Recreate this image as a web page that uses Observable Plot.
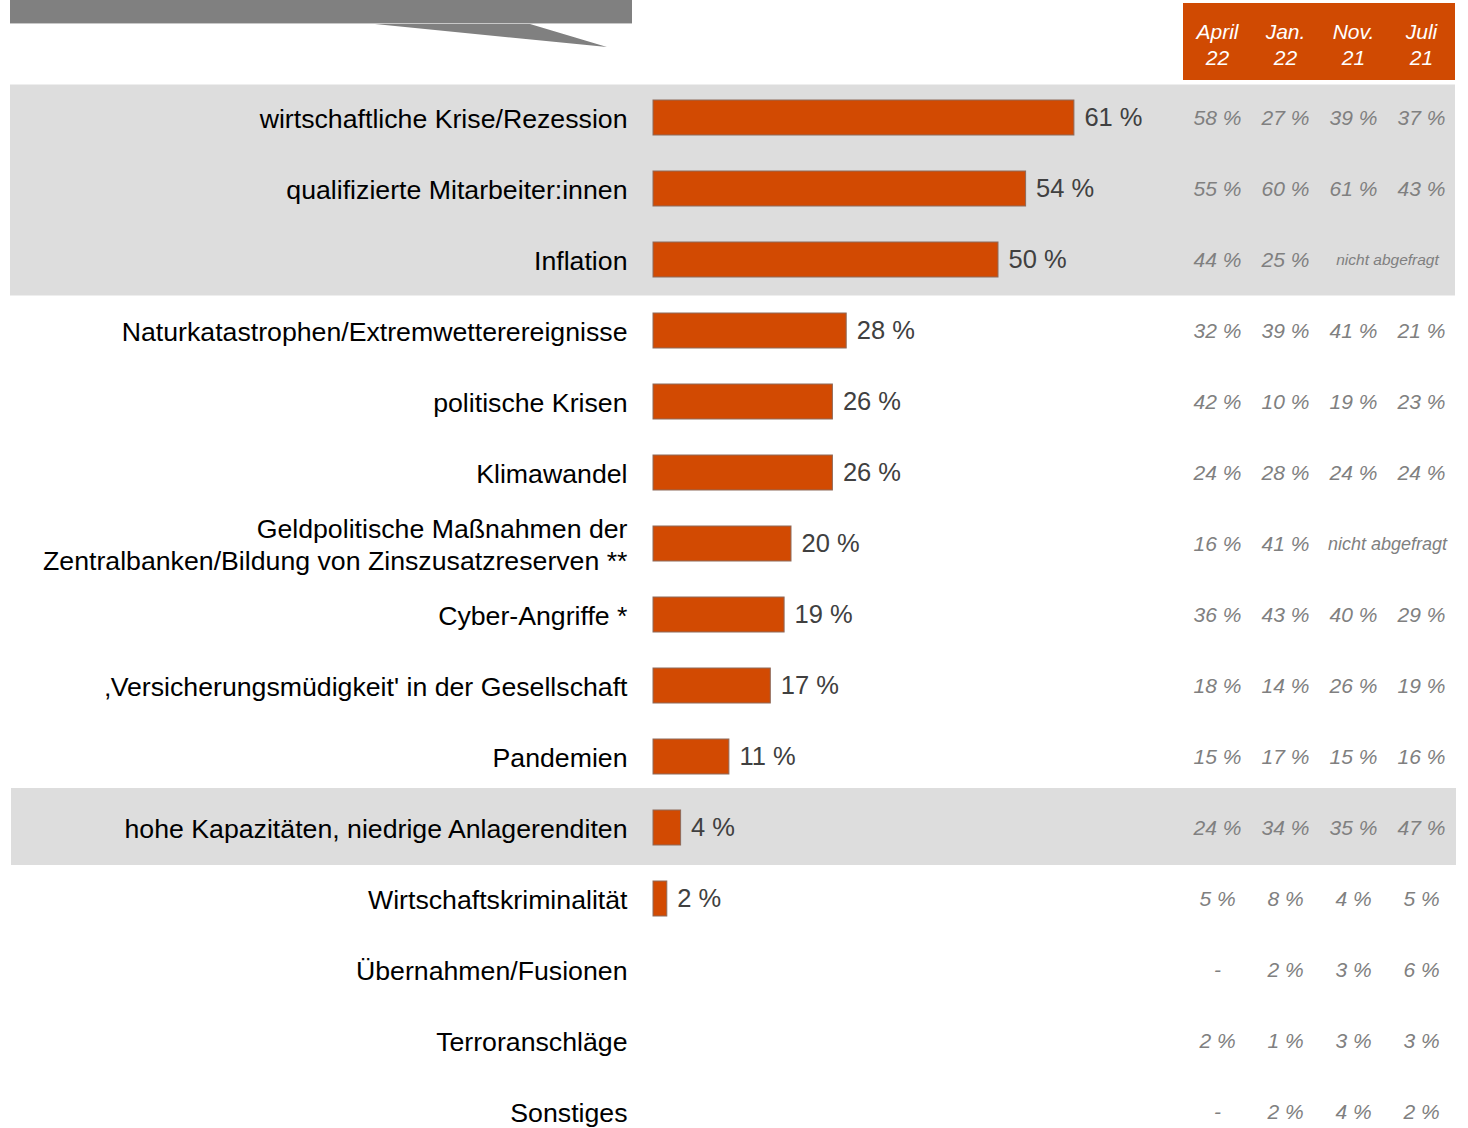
<!DOCTYPE html>
<html>
<head>
<meta charset="utf-8">
<script src="https://cdn.jsdelivr.net/npm/d3@7"></script>
<script src="https://cdn.jsdelivr.net/npm/@observablehq/plot@0.6"></script>
<style>
  html, body { margin: 0; padding: 0; background: #fff; }
  #wrap { position: relative; width: 1468px; height: 1128px; overflow: hidden; font-family: "Liberation Sans", Arial, sans-serif; }
  #wrap svg { position: absolute; left: 0; top: 0; display: block; max-width: none; }
  #banner { position: absolute; left: 10px; top: 0; width: 622px; height: 48px; background: #808080;
    clip-path: polygon(0 0, 622px 0, 622px 24px, 520px 24px, 597px 47px, 365px 24px, 0 24px); }
  #bannerline { position: absolute; left: 10px; top: 23px; width: 622px; height: 1px; background: #c8c8c8; }
</style>
</head>
<body>
<div id="wrap"></div>
<script>
// Categories (rows, top to bottom)
const categories = [
  "wirtschaftliche Krise/Rezession",
  "qualifizierte Mitarbeiter:innen",
  "Inflation",
  "Naturkatastrophen/Extremwetterereignisse",
  "politische Krisen",
  "Klimawandel",
  "Geldpolitische Maßnahmen der\nZentralbanken/Bildung von Zinszusatzreserven **",
  "Cyber-Angriffe *",
  "‚Versicherungsmüdigkeit' in der Gesellschaft",
  "Pandemien",
  "hohe Kapazitäten, niedrige Anlagerenditen",
  "Wirtschaftskriminalität",
  "Übernahmen/Fusionen",
  "Terroranschläge",
  "Sonstiges"
];
// Current survey shares (bars); null = no bar
const current = [61, 54, 50, 28, 26, 26, 20, 19, 17, 11, 4, 2, null, null, null];
// Earlier surveys (table); null = "-", "n.a." = nicht abgefragt
const columns = ["April 22", "Jan. 22", "Nov. 21", "Juli 21"];
const april22 = [58, 55, 44, 32, 42, 24, 16, 36, 18, 15, 24, 5, null, 2, null];
const jan22   = [27, 60, 25, 39, 10, 28, 41, 43, 14, 17, 34, 8, 2, 1, 2];
const nov21   = [39, 61, "n.a.", 41, 19, 24, "n.a.", 40, 26, 15, 35, 4, 3, 3, 4];
const juli21  = [37, 43, "n.a.", 21, 23, 24, "n.a.", 29, 19, 16, 47, 5, 6, 3, 2];
const highlightedFirst = [categories[0]];
const highlightedTop = [categories[1], categories[2]];
const highlightedMid = [categories[10]];

const rows = categories.map((cat, i) => ({cat, value: current[i]}));
const barRows = rows.filter(d => d.value != null);
const series = [april22, jan22, nov21, juli21];
const cells = categories.flatMap((cat, i) => columns.map((col, j) => ({cat, col, v: series[j][i]})));
const numCells = cells.filter(d => d.v !== "n.a.");
const naRows = categories.filter((c, i) => nov21[i] === "n.a.");

const W = 1468, H = 1128;
const yScale = {type: "band", domain: categories, range: [81.4, 1148.6], padding: 0, axis: null};
const font = "Liberation Sans, Arial, sans-serif";

const main = Plot.plot({
  width: W, height: H,
  marginLeft: 10, marginRight: 13, marginTop: 0, marginBottom: 0,
  style: {fontFamily: font, background: "white"},
  x: {domain: [0, 61], range: [653, 653 + 61 * 6.9], axis: null},
  y: yScale,
  marks: [
    Plot.cell(highlightedFirst, {y: d => d, fill: "#dddddd", insetTop: 2.5, insetBottom: -0.5, insetLeft: 0, insetRight: 0}),
    Plot.cell(highlightedTop, {y: d => d, fill: "#dddddd", insetTop: -0.5, insetBottom: -0.5, insetLeft: 0, insetRight: 0}),
    Plot.cell(highlightedMid, {y: d => d, fill: "#dddddd", insetTop: -4, insetBottom: -2, insetLeft: 1, insetRight: -1}),
    Plot.barX(barRows, {y: "cat", x: "value", fill: "#d24a02", stroke: "#8e6a5a", strokeWidth: 1, insetTop: 18, insetBottom: 18}),
    Plot.text(barRows, {y: "cat", x: "value", text: d => d.value + " %", dx: 10, textAnchor: "start", fontSize: 25.5, fill: "#404040"}),
    Plot.text(rows, {y: "cat", x: () => 0, text: "cat", dx: -26, textAnchor: "end", fontSize: 26.7, fill: "#000", lineHeight: 1.2})
  ]
});

const table = Plot.plot({
  width: W, height: H,
  marginLeft: 0, marginRight: 0, marginTop: 0, marginBottom: 0,
  style: {fontFamily: font, background: "transparent"},
  x: {type: "band", domain: columns, range: [1182, 1455], padding: 0, axis: null},
  y: yScale,
  marks: [
    Plot.text(numCells, {x: "col", y: "cat", text: d => d.v == null ? "-" : d.v + " %", fontSize: 21, fontStyle: "italic", fill: "#808080"}),
    Plot.text(naRows.slice(0, 1), {x: () => "Nov. 21", y: d => d, dx: 34, text: () => "nicht abgefragt", fontSize: 15.5, fontStyle: "italic", fill: "#808080"}),
    Plot.text(naRows.slice(1), {x: () => "Nov. 21", y: d => d, dx: 34, text: () => "nicht abgefragt", fontSize: 18, fontStyle: "italic", fill: "#808080"})
  ]
});

const header = Plot.plot({
  width: W, height: 83,
  marginLeft: 1182, marginRight: 13, marginTop: 3, marginBottom: 3,
  style: {fontFamily: font, background: "transparent"},
  x: {type: "band", domain: columns, padding: 0, axis: null},
  marks: [
    Plot.cell(columns, {x: d => d, fill: "#d04a02", inset: 0}),
    Plot.text(columns, {x: d => d, text: d => d.replace(" ", "\n"), fill: "white", fontStyle: "italic", fontSize: 21, lineHeight: 1.24, dy: 2})
  ]
});

const wrap = document.getElementById("wrap");
wrap.appendChild(main);
wrap.appendChild(table);
wrap.appendChild(header);
const banner = document.createElement("div"); banner.id = "banner"; wrap.appendChild(banner);
const bl = document.createElement("div"); bl.id = "bannerline"; wrap.appendChild(bl);
</script>
</body>
</html>
